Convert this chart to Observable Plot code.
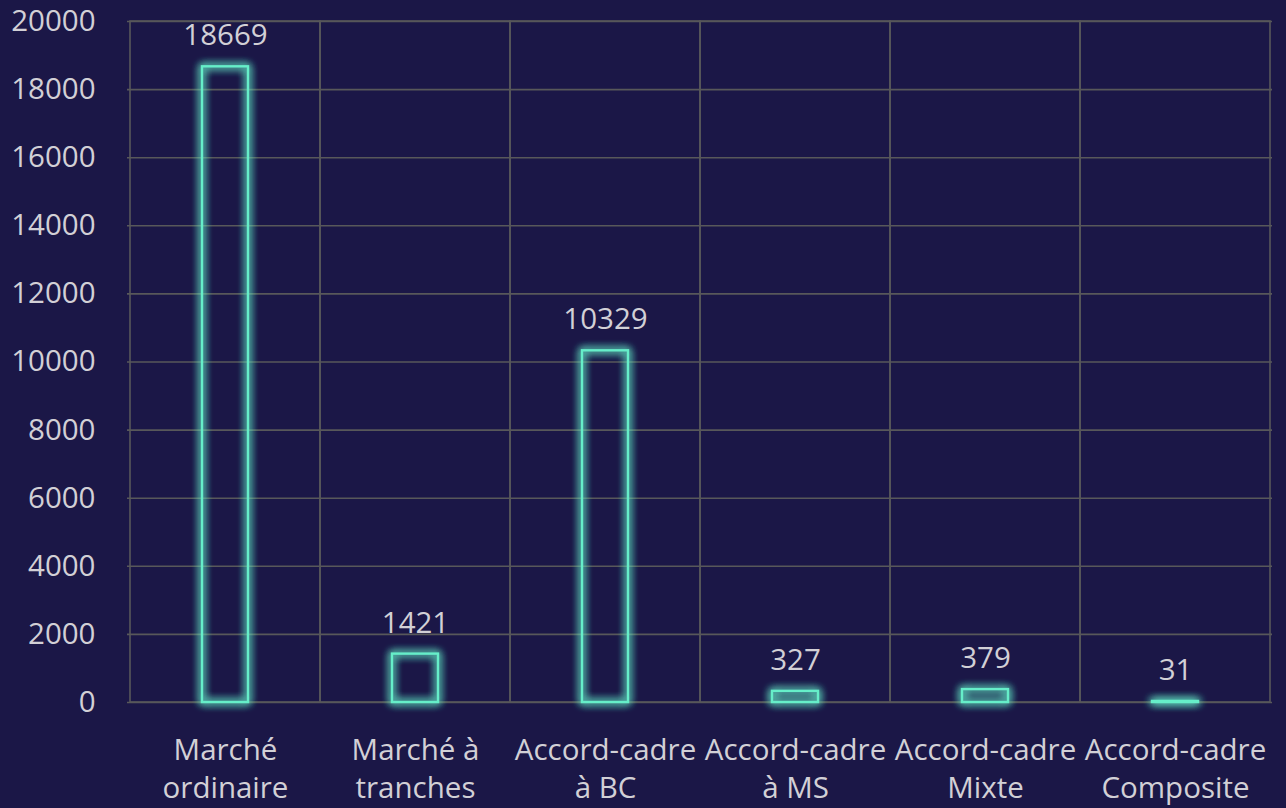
<!DOCTYPE html>
<html><head><meta charset="utf-8">
<script src="https://cdn.jsdelivr.net/npm/d3@7"></script>
<script src="https://cdn.jsdelivr.net/npm/@observablehq/plot@0.6"></script>
<style>
html,body{margin:0;padding:0;background:#1b1747;}
#chart{width:1286px;height:808px;}
</style>
</head><body><div id="chart"></div>
<script>
const categories = ["Marché\nordinaire","Marché à\ntranches","Accord-cadre\nà BC","Accord-cadre\nà MS","Accord-cadre\nMixte","Accord-cadre\nComposite"];
const values = [18669, 1421, 10329, 327, 379, 31];
const yTicks = [0,2000,4000,6000,8000,10000,12000,14000,16000,18000,20000];

const data = categories.map((c,i)=>({cat:c, value:values[i]}));
const bg = "#1b1747", grid = "#58585a", txt = "#d2d0d6", teal = "#66eec9";
const font = "'Segoe UI', 'Open Sans', sans-serif";
const fs = 29.5;

const svg = Plot.plot({
  width: 1286, height: 808,
  marginTop: 21, marginBottom: 106, marginLeft: 127, marginRight: 14,
  style: {background: bg, color: txt, fontFamily: font, fontSize: fs + "px"},
  x: {domain: categories, padding: 0, label: null},
  y: {domain: [0, 20000], ticks: yTicks, label: null},
  marks: [
    Plot.gridY(yTicks, {stroke: grid, strokeOpacity: 1, strokeWidth: 1.6}),
    Plot.barY(categories, {x: d=>d, y1: 0, y2: 20000, fill: "none", stroke: grid, strokeWidth: 1.6, inset: 0}),
    Plot.barY(data, {x: "cat", y: "value", fill: "none", stroke: teal, strokeWidth: 2.4, insetLeft: 72, insetRight: 72, className: "glowbars"}),
    Plot.text(data, {x: "cat", y: "value", text: d=>String(d.value), dy: -31, fill: txt, fontSize: fs}),
    Plot.axisY({ticks: yTicks, tickFormat: d=>String(d), tickSize: 0, tickPadding: 32, fontSize: fs, fill: txt}),
    Plot.axisX({tickSize: 0, tickPadding: 31, fontSize: fs, lineHeight: 1.27, fill: txt})
  ]
});

const s = d3.select(svg);
const defs = s.insert("defs", ":first-child");
const f = defs.append("filter").attr("id","glow").attr("x","-50%").attr("y","-50%").attr("width","200%").attr("height","200%");
f.append("feGaussianBlur").attr("in","SourceGraphic").attr("stdDeviation",4.5).attr("result","b");
const m = f.append("feMerge");
m.append("feMergeNode").attr("in","b");
m.append("feMergeNode").attr("in","b");
m.append("feMergeNode").attr("in","b");
m.append("feMergeNode").attr("in","SourceGraphic");
s.selectAll(".glowbars").attr("filter","url(#glow)");
document.getElementById("chart").appendChild(svg);
</script>
</body></html>
